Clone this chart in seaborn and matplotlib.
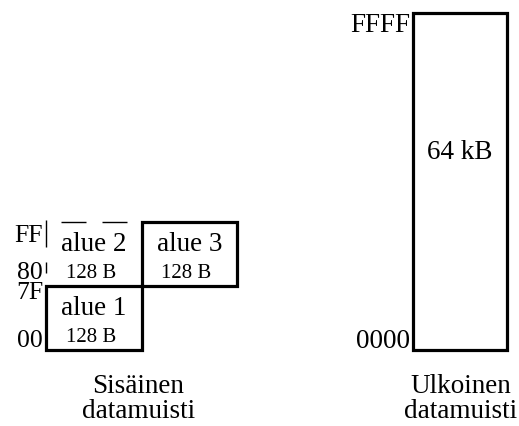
import matplotlib
matplotlib.use("Agg")
import matplotlib.pyplot as plt
import seaborn as sns

# ---- data ----
int_regions = ["alue 1", "alue 2", "alue 3"]
int_sizes = ["128 B", "128 B", "128 B"]
int_start = [0x00, 0x80, 0x80]
int_length = [128, 128, 128]
int_column = [0, 0, 1]
int_addr_values = [0x00, 0x7F, 0x80, 0xFF]
int_addr_labels = ["00", "7F", "80", "FF"]
int_caption = "Sisäinen\ndatamuisti"

ext_size_label = "64 kB"
ext_start = [0x0000]
ext_length = [0x10000]
ext_addr_values = [0x0000, 0xFFFF]
ext_addr_labels = ["0000", "FFFF"]
ext_caption = "Ulkoinen\ndatamuisti"

# ---- style ----
sns.set_theme(style="white")
plt.rcParams["font.family"] = ["Liberation Serif", "DejaVu Serif"]
plt.rcParams["lines.scale_dashes"] = False

W, H = 519, 426
fig = plt.figure(figsize=(W / 100, H / 100), dpi=100)
fig.patch.set_facecolor("white")

def px_axes(x0, y0, x1, y1):
    return fig.add_axes([x0 / W, 1 - y1 / H, (x1 - x0) / W, (y1 - y0) / H])

PX = 0.72  # points per pixel
BIG = 19.5
MID = 18.5
SMALL = 15
LW = 2.3

# ---- internal memory ----
ax1 = px_axes(46, 222, 237, 350)
ax1.set_xlim(0, 2)
ax1.set_ylim(0, 256)
ax1.axis("off")

for name, size, start, length, col in zip(int_regions, int_sizes, int_start, int_length, int_column):
    solid = name != "alue 2"
    ax1.bar(col + 0.5, length, bottom=start, width=1, fill=False,
            edgecolor="black" if solid else "none", linewidth=LW, clip_on=False)
    if not solid:
        # dashed top edge and thin broken left edge
        ax1.plot([col, col + 1], [start + length] * 2, color="black", linewidth=1.0,
                 linestyle=(26 * PX, (25 * PX, 16 * PX)), clip_on=False)
        ax1.plot([col, col], [start + length + 4, start], color="black", linewidth=1.0,
                 linestyle=(0, (27 * PX, 15 * PX, 11 * PX, 40 * PX)), clip_on=False)
    ax1.text(col + 0.5, start + 0.65 * length, name, ha="center", va="center",
             fontsize=BIG, color="black")
    ax1.text(col + 0.47, start + 0.20 * length, size, ha="center", va="center",
             fontsize=SMALL, color="black")

lab_offsets = {"00": 9, "7F": -7, "80": 13, "FF": -14}
for val, lab in zip(int_addr_values, int_addr_labels):
    y = val + 1 if lab in ("7F", "FF") else val
    ax1.annotate(lab, xy=(0, y), xytext=(-3 * PX, lab_offsets[lab] * PX),
                 textcoords="offset points", ha="right", va="center",
                 fontsize=MID, color="black", annotation_clip=False)

ax1.annotate(int_caption, xy=(0.5, 0), xycoords="axes fraction",
             xytext=(-3 * PX, -24 * PX), textcoords="offset points",
             ha="center", va="top", fontsize=BIG, linespacing=1.0,
             color="black", annotation_clip=False)

# ---- external memory ----
ax2 = px_axes(413, 13, 507, 350)
ax2.set_xlim(0, 1)
ax2.set_ylim(0, 0x10000)
ax2.axis("off")
ax2.bar(0.5, ext_length[0], bottom=ext_start[0], width=1, fill=False,
        edgecolor="black", linewidth=LW, clip_on=False)
ax2.text(0.5, 0.585 * ext_length[0], ext_size_label, ha="center", va="center",
         fontsize=BIG, color="black")

ext_offsets = {"0000": 8, "FFFF": -12}
for val, lab in zip(ext_addr_values, ext_addr_labels):
    y = val + 1 if lab == "FFFF" else val
    ax2.annotate(lab, xy=(0, y), xytext=(-3 * PX, ext_offsets[lab] * PX),
                 textcoords="offset points", ha="right", va="center",
                 fontsize=BIG, color="black", annotation_clip=False)

ax2.annotate(ext_caption, xy=(0.5, 0), xycoords="axes fraction",
             xytext=(1 * PX, -24 * PX), textcoords="offset points",
             ha="center", va="top", fontsize=BIG, linespacing=1.0,
             color="black", annotation_clip=False)

fig.savefig("out.png", dpi=100, facecolor="white")
